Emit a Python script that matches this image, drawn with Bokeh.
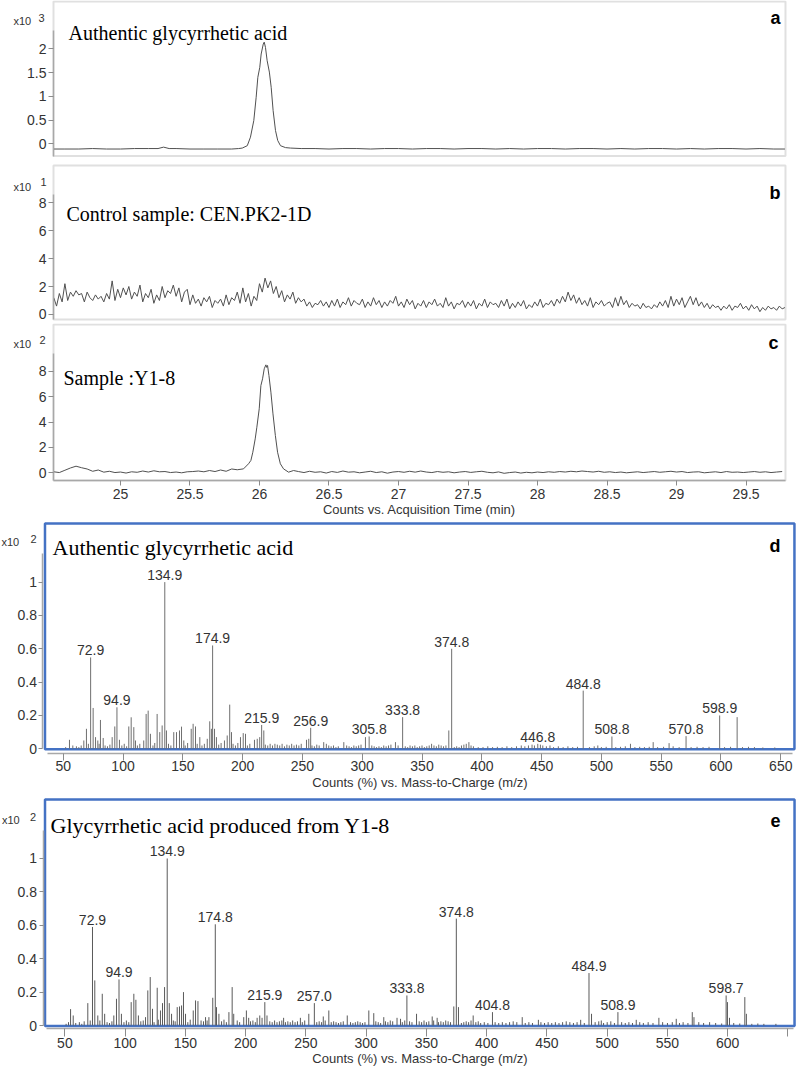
import numpy as np
from bokeh.plotting import figure
from bokeh.layouts import column
from bokeh.models import Label, FixedTicker, Range1d, ColumnDataSource, BoxAnnotation
from bokeh.embed import file_html
from bokeh.resources import INLINE
from bokeh.core.properties import value

SANS = "Liberation Sans"
SERIF = "Liberation Serif"

# ---------------- data ----------------
chrom_xticks = [25, 25.5, 26, 26.5, 27, 27.5, 28, 28.5, 29, 29.5]
chrom_xlabels = ["25", "25.5", "26", "26.5", "27", "27.5", "28", "28.5", "29", "29.5"]

# (a) authentic glycyrrhetic acid, counts x10^3
a_time = [24.52, 24.6, 24.7, 24.8, 24.9, 25.0, 25.1, 25.2, 25.27, 25.31, 25.35, 25.4,
          25.5, 25.6, 25.7, 25.8, 25.85, 25.876, 25.912, 25.935, 25.959, 25.976, 25.988,
          26.002, 26.012, 26.027, 26.034, 26.043, 26.055, 26.071, 26.084, 26.098, 26.115,
          26.131, 26.151, 26.187, 26.223, 26.3, 26.4, 26.5, 26.6, 26.7, 26.8, 26.9, 27.0,
          27.1, 27.2, 27.3, 27.4, 27.5, 27.6, 27.7, 27.8, 27.9, 28.0, 28.1, 28.2, 28.3,
          28.4, 28.5, 28.6, 28.7, 28.8, 28.9, 29.0, 29.1, 29.2, 29.3, 29.4, 29.5, 29.6,
          29.7, 29.78]
a_signal = [-0.11, -0.11, -0.11, -0.10, -0.11, -0.11, -0.10, -0.10, -0.10, -0.07, -0.10, -0.10,
            -0.11, -0.11, -0.11, -0.11, -0.10, -0.09, -0.04, 0.14, 0.49, 0.98, 1.40,
            1.61, 1.89, 2.10, 2.14, 2.03, 1.75, 1.51, 1.19, 0.70, 0.28,
            0.07, -0.04, -0.08, -0.09, -0.10, -0.10, -0.11, -0.10, -0.10, -0.11, -0.10, -0.10,
            -0.11, -0.10, -0.10, -0.11, -0.10, -0.10, -0.11, -0.10, -0.11, -0.10, -0.10, -0.11, -0.10,
            -0.10, -0.11, -0.10, -0.11, -0.10, -0.10, -0.11, -0.10, -0.11, -0.10, -0.10, -0.11, -0.10,
            -0.11, -0.11]
a_yticks = [0, 0.5, 1, 1.5, 2]
a_ylabels = ["0", "0.5", "1", "1.5", "2"]

# (b) control sample, counts x10^1, sampled every 0.02 min from 24.52
b_start, b_step = 24.52, 0.02
b_signal = [1.2, 0.6, 1.5, 0.9, 2.2, 1.0, 1.6, 1.3, 1.7, 1.4,
            1.5, 0.9, 1.6, 1.2, 1.0, 1.4, 1.1, 1.3, 0.9, 1.5,
            1.1, 2.4, 1.0, 1.8, 1.2, 1.9, 1.4, 2.0, 1.1, 1.6,
            1.3, 2.1, 0.9, 1.5, 1.2, 1.8, 0.8, 1.4, 1.0, 2.0,
            1.2, 1.7, 1.5, 2.1, 1.3, 1.9, 0.9, 1.6, 1.8, 0.7,
            1.4, 0.8, 1.1, 0.6, 1.2, 0.9, 1.3, 0.5, 1.0, 0.8,
            1.1, 0.6, 1.4, 0.7, 1.2, 1.0, 1.6, 0.8, 1.9, 0.9,
            1.5, 0.6, 1.3, 1.0, 2.2, 1.6, 2.6, 1.9, 2.4, 1.5,
            2.0, 1.2, 1.7, 0.9, 1.4, 1.1, 1.6, 0.8, 1.2, 0.9,
            1.1, 0.6, 0.9, 0.5, 0.8, 0.7, 1.0, 0.6, 0.9, 0.5,
            1.0, 0.6, 1.1, 0.5, 0.9, 0.7, 1.2, 0.6, 1.0, 0.8,
            0.7, 1.1, 0.5, 0.9, 0.6, 1.2, 0.7, 1.0, 0.5, 0.9,
            0.6, 1.0, 0.8, 1.3, 0.6, 0.9, 0.5, 1.1, 0.7, 1.0,
            0.4, 0.8, 0.6, 1.0, 0.5, 0.9, 0.7, 1.1, 0.6, 0.8,
            0.5, 1.2, 0.6, 0.9, 0.4, 0.8, 0.7, 1.0, 0.5, 0.9,
            0.6, 1.0, 0.4, 0.8, 0.6, 1.1, 0.5, 0.9, 0.7, 0.8,
            0.5, 1.0, 0.6, 1.1, 0.4, 0.8, 0.5, 0.9, 0.6, 1.0,
            0.4, 0.7, 0.5, 0.9, 0.6, 1.1, 0.5, 0.8, 0.7, 1.0,
            0.6, 1.1, 0.8, 1.3, 0.9, 1.6, 1.0, 1.4, 0.8, 1.2,
            0.7, 1.0, 0.6, 1.2, 0.5, 0.9, 0.7, 1.0, 0.6, 0.8,
            0.9, 0.5, 1.2, 0.6, 1.3, 0.7, 1.0, 0.5, 0.8, 0.6,
            0.7, 0.4, 0.8, 0.5, 0.6, 0.4, 0.7, 0.5, 0.9, 0.6,
            1.0, 0.5, 1.3, 0.6, 1.1, 0.7, 1.2, 0.5, 0.9, 1.3,
            0.7, 1.2, 0.6, 0.9, 0.5, 0.8, 0.4, 0.7, 0.5, 0.6,
            0.3, 0.6, 0.4, 0.7, 0.3, 0.6, 0.5, 0.8, 0.4, 0.6,
            0.3, 0.7, 0.4, 0.6, 0.2, 0.5, 0.3, 0.6, 0.4, 0.5,
            0.3, 0.6, 0.4, 0.5]
bc_yticks = [0, 2, 4, 6, 8]
bc_ylabels = ["0", "2", "4", "6", "8"]

# (c) sample Y1-8, counts x10^2
c_left_start, c_step = 24.52, 0.04
c_left_signal = [0.08, 0.02, 0.20, 0.38, 0.52, 0.40, 0.30, 0.12, 0.22, 0.05,
                 0.12, 0.02, 0.06, -0.02, 0.08, 0.04, 0.14, 0.06, 0.16, 0.08,
                 0.10, 0.02, 0.06, 0.00, 0.08, 0.10, 0.14, 0.08, 0.18, 0.10,
                 0.22, 0.12, 0.30, 0.24]
c_peak_time = [25.885, 25.921, 25.938, 25.952, 25.969, 25.981, 25.998, 26.010, 26.022,
               26.034, 26.046, 26.052, 26.058, 26.068, 26.082, 26.097, 26.114, 26.130,
               26.150, 26.173, 26.209, 26.245]
c_peak_signal = [0.31, 0.71, 0.97, 1.62, 2.67, 3.59, 5.04, 6.87, 7.40,
                 8.19, 8.50, 8.30, 8.45, 7.66, 6.35, 4.64, 2.94, 1.62,
                 0.71, 0.31, 0.05, 0.18]
c_right_start = 26.28
c_right_signal = [0.10, 0.02, 0.12, 0.04, 0.08, -0.02, 0.10, 0.03, 0.14, 0.05,
                  0.08, 0.00, 0.06, 0.12, 0.02, 0.08, -0.03, 0.06, 0.10, 0.04,
                  0.12, 0.05, 0.14, 0.06, 0.02, 0.10, 0.04, 0.08, 0.00, 0.06,
                  0.10, 0.03, 0.08, 0.12, 0.04, 0.00, 0.07, -0.04, 0.02, 0.06,
                  -0.02, 0.04, 0.00, 0.06, 0.02, 0.08, 0.04, 0.10, 0.06, 0.12,
                  0.08, 0.14, 0.10, 0.06, 0.12, 0.04, 0.08, 0.02, 0.06, 0.00,
                  0.04, 0.08, 0.02, 0.06, 0.10, 0.04, 0.08, 0.12, 0.06, 0.10,
                  0.02, 0.06, 0.08, 0.00, 0.04, 0.08, 0.02, 0.10, 0.04, 0.06,
                  0.02, 0.06, 0.10, 0.04, 0.08, 0.02, 0.06, 0.10]

# Mass spectra, counts (%) x10^2
ms_xticks = [50, 100, 150, 200, 250, 300, 350, 400, 450, 500, 550, 600, 650]
d_xlabels = ["50", "100", "150", "200", "250", "300", "350", "400", "450", "500", "550", "600", "650"]
e_xlabels = ["50", "100", "150", "200", "250", "300", "350", "400", "450", "500", "550", "600", ""]
ms_yticks = [0, 0.2, 0.4, 0.6, 0.8, 1]
ms_ylabels = ["0", "0.2", "0.4", "0.6", "0.8", "1"]

# (d) authentic standard
d_mz = [55.2, 67.2, 69.4, 72.9, 75.0, 77.0, 78.9, 81.1, 83.4, 90.9, 93.1, 94.9, 97.0,
        104.8, 106.8, 109.0, 110.4, 117.3, 119.3, 121.0, 122.9, 128.5, 130.7, 132.7,
        134.9, 136.3, 142.4, 144.7, 147.2, 148.9, 150.8, 157.0, 158.6, 160.6, 164.2,
        170.4, 172.5, 173.9, 174.9, 176.5, 178.1, 184.8, 187.1, 189.2, 190.7, 198.2,
        200.5, 202.4, 209.9, 212.2, 214.3, 215.9, 217.7, 253.4, 255.3, 256.9, 267.8,
        284.6, 302.7, 305.8, 327.8, 333.8, 372.4, 374.8, 389.2, 446.8, 484.8, 508.8,
        524.3, 543.3, 556.6, 570.8, 598.9, 613.5]
d_int = [0.054, 0.05, 0.12, 0.548, 0.245, 0.07, 0.05, 0.173, 0.065, 0.07, 0.134, 0.249, 0.054,
         0.134, 0.189, 0.13, 0.05, 0.05, 0.209, 0.229, 0.09, 0.209, 0.10, 0.14,
         1.0, 0.11, 0.10, 0.10, 0.11, 0.133, 0.05, 0.12, 0.15, 0.134, 0.07,
         0.06, 0.165, 0.12, 0.62, 0.12, 0.07, 0.05, 0.08, 0.265, 0.10, 0.07,
         0.094, 0.09, 0.054, 0.06, 0.07, 0.143, 0.11, 0.054, 0.06, 0.126, 0.04,
         0.04, 0.07, 0.074, 0.04, 0.19, 0.11, 0.60, 0.04, 0.03, 0.349, 0.074,
         0.03, 0.04, 0.034, 0.076, 0.20, 0.19]
d_minor_mz = [52, 58, 61, 63, 65, 71, 80, 85, 87, 89, 99, 101, 103, 112, 114, 125, 126.5,
              138, 140, 152, 154, 162, 166, 168, 180, 182, 192, 194, 196, 204, 206, 219,
              221, 223, 225, 227, 229, 231, 233, 235, 237, 239, 241, 243, 245, 247, 249,
              258, 260, 262, 264, 270, 272, 274, 276, 278, 280, 287, 289, 291, 293, 295,
              297, 299, 308, 310, 312, 314, 316, 318, 320, 322, 324, 330, 336, 338, 340,
              342, 344, 346, 348, 350, 352, 354, 356, 358, 360, 362, 364, 366, 368, 370,
              377, 379, 381, 383, 385, 387, 391, 393, 397, 401, 405, 409, 413, 417, 421,
              425, 429, 433, 436, 439, 442, 444, 449, 451, 454, 457, 460, 464, 468, 472,
              476, 480, 490, 494, 497, 500, 504, 512, 516, 520, 528, 532, 536, 540, 547,
              552, 560, 565, 575, 580, 585, 590, 603, 608, 618, 623, 628, 635, 645]
d_minor_int = [0.01, 0.02, 0.015, 0.01, 0.02, 0.03, 0.03, 0.02, 0.015, 0.025, 0.02, 0.03, 0.015,
               0.02, 0.03, 0.02, 0.035, 0.03, 0.02, 0.02, 0.035, 0.03, 0.02, 0.03, 0.025, 0.035,
               0.03, 0.02, 0.035, 0.02, 0.03, 0.025, 0.02, 0.03, 0.02, 0.03, 0.025, 0.02, 0.03,
               0.015, 0.025, 0.02, 0.03, 0.02, 0.025, 0.02, 0.03, 0.02, 0.015, 0.025, 0.02, 0.03,
               0.02, 0.015, 0.02, 0.01, 0.015, 0.02, 0.015, 0.01, 0.02, 0.015, 0.02, 0.025, 0.02,
               0.015, 0.01, 0.015, 0.01, 0.02, 0.015, 0.02, 0.025, 0.02, 0.015, 0.01, 0.02, 0.015,
               0.02, 0.01, 0.015, 0.02, 0.01, 0.015, 0.02, 0.03, 0.02, 0.015, 0.025, 0.02, 0.015,
               0.02, 0.01, 0.015, 0.01, 0.02, 0.025, 0.03, 0.02, 0.015, 0.01, 0.01, 0.015, 0.01,
               0.012, 0.01, 0.015, 0.01, 0.015, 0.02, 0.015, 0.02, 0.025, 0.02, 0.025, 0.02, 0.015,
               0.02, 0.01, 0.015, 0.01, 0.015, 0.01, 0.012, 0.01, 0.015, 0.02, 0.01, 0.012, 0.01,
               0.012, 0.015, 0.01, 0.012, 0.01, 0.012, 0.01, 0.012, 0.015, 0.01, 0.01, 0.012, 0.01,
               0.012, 0.01, 0.012, 0.01, 0.012, 0.01, 0.008, 0.008]
d_label_mz = [72.9, 94.9, 134.9, 174.9, 215.9, 256.9, 305.8, 333.8, 374.8, 446.8,
              484.8, 508.8, 570.8, 598.9]

# (e) glycyrrhetic acid produced by Y1-8
e_mz = [54.7, 56.9, 69.0, 72.9, 74.8, 77.3, 81.0, 83.0, 90.6, 92.8, 94.9, 96.9, 105.0,
        107.2, 108.9, 111.0, 116.9, 118.8, 120.8, 122.7, 126.6, 129.3, 131.0, 132.7,
        134.9, 136.6, 138.5, 143.2, 145.1, 146.8, 148.4, 150.1, 156.5, 158.4, 160.4,
        166.7, 169.5, 172.7, 174.8, 175.8, 177.8, 186.1, 188.8, 190.1, 198.4, 200.6,
        202.5, 209.5, 211.7, 213.6, 215.9, 217.7, 231.5, 245.4, 252.4, 257.0, 264.4,
        269.0, 284.3, 302.2, 306.3, 314.6, 325.6, 328.5, 333.8, 341.8, 354.8, 358.9,
        372.7, 374.8, 376.6, 388.8, 404.8, 429.5, 442.9, 478.0, 484.9, 487.0, 495.1,
        508.9, 524.1, 542.9, 557.3, 570.6, 572.0, 598.7, 599.8, 601.5, 614.2, 615.5]
e_int = [0.098, 0.06, 0.134, 0.59, 0.27, 0.06, 0.19, 0.07, 0.06, 0.16, 0.276, 0.07, 0.14,
         0.19, 0.154, 0.06, 0.05, 0.21, 0.29, 0.10, 0.226, 0.09, 0.134, 0.23,
         1.0, 0.134, 0.07, 0.11, 0.114, 0.12, 0.20, 0.07, 0.09, 0.15, 0.146,
         0.05, 0.05, 0.166, 0.606, 0.11, 0.07, 0.08, 0.23, 0.07, 0.05, 0.09,
         0.046, 0.046, 0.06, 0.046, 0.14, 0.06, 0.046, 0.046, 0.07, 0.134, 0.054,
         0.09, 0.06, 0.09, 0.074, 0.05, 0.046, 0.04, 0.18, 0.07, 0.054, 0.046,
         0.114, 0.64, 0.11, 0.06, 0.08, 0.05, 0.034, 0.034, 0.314, 0.07, 0.03,
         0.08, 0.034, 0.046, 0.04, 0.08, 0.05, 0.18, 0.14, 0.046, 0.17, 0.07]
e_minor_mz = [51, 53, 59, 62, 64, 66, 71, 79, 85, 87, 89, 99, 101, 103, 113, 115, 124,
              127.5, 140, 141.5, 152, 154, 163, 165, 168, 180, 182, 184, 193, 195, 204, 206,
              208, 220, 222, 224, 226, 228, 230, 233, 235, 237, 239, 241, 243, 247, 249, 259,
              261, 263, 266, 271, 273, 275, 277, 279, 281, 287, 289, 291, 293, 295, 297, 299,
              308, 310, 312, 316, 318, 320, 322, 330, 332, 336, 338, 344, 346, 348, 350, 352,
              356, 360, 362, 364, 366, 368, 370, 379, 381, 383, 385, 387, 391, 393, 395, 398,
              401, 407, 410, 413, 416, 419, 422, 425, 432, 435, 438, 445, 448, 451, 454, 457,
              460, 463, 466, 469, 472, 475, 481, 490, 493, 497, 500, 503, 506, 512, 515, 518,
              521, 527, 530, 534, 538, 546, 550, 554, 560, 563, 567, 576, 580, 585, 590, 595,
              605, 610, 620, 625, 630, 640]
e_minor_int = [0.01, 0.02, 0.015, 0.02, 0.01, 0.025, 0.03, 0.03, 0.02, 0.015, 0.025, 0.02, 0.03,
               0.02, 0.025, 0.03, 0.02, 0.035, 0.03, 0.025, 0.02, 0.035, 0.03, 0.025, 0.03, 0.025,
               0.035, 0.02, 0.03, 0.02, 0.025, 0.03, 0.02, 0.025, 0.02, 0.03, 0.02, 0.025, 0.03,
               0.02, 0.025, 0.02, 0.03, 0.02, 0.025, 0.02, 0.03, 0.02, 0.025, 0.02, 0.03, 0.02,
               0.025, 0.02, 0.015, 0.02, 0.025, 0.02, 0.015, 0.02, 0.025, 0.02, 0.015, 0.02, 0.025,
               0.02, 0.015, 0.025, 0.02, 0.03, 0.025, 0.02, 0.03, 0.025, 0.02, 0.025, 0.02, 0.03,
               0.02, 0.025, 0.03, 0.02, 0.025, 0.02, 0.03, 0.025, 0.02, 0.015, 0.02, 0.025, 0.02,
               0.03, 0.02, 0.025, 0.015, 0.02, 0.015, 0.02, 0.015, 0.02, 0.015, 0.02, 0.025, 0.02,
               0.015, 0.02, 0.015, 0.02, 0.015, 0.02, 0.015, 0.02, 0.015, 0.02, 0.025, 0.02, 0.015,
               0.02, 0.015, 0.02, 0.025, 0.015, 0.02, 0.025, 0.015, 0.02, 0.015, 0.02, 0.015,
               0.02, 0.015, 0.02, 0.015, 0.02, 0.015, 0.02, 0.015, 0.02, 0.015, 0.02, 0.015, 0.02,
               0.015, 0.012, 0.015, 0.012, 0.01, 0.012, 0.01, 0.01]
e_label_mz = [72.9, 94.9, 134.9, 174.8, 215.9, 257.0, 333.8, 374.8, 404.8, 484.9, 508.9, 598.7]

# ---------------- layout constants ----------------
W = 796
TXT = "#333333"
TRACE = "#505050"
GRID_GRAY = "#a8a8a8"


def make_fig(h, xr, yr):
    p = figure(width=W, height=h, x_range=Range1d(*xr), y_range=Range1d(*yr),
               output_backend="svg", toolbar_location=None,
               min_border_left=0, min_border_right=0, min_border_top=0, min_border_bottom=0)
    p.grid.visible = False
    p.outline_line_color = None
    p.background_fill_color = "white"
    p.border_fill_color = "white"
    return p


def style_axis(ax, ticks, labels, size="14px", tick_out=4, standoff=3):
    ax.ticker = FixedTicker(ticks=ticks)
    ax.major_label_overrides = dict(zip(ticks, labels))
    ax.minor_tick_line_color = None
    ax.major_tick_in = 0
    ax.major_tick_out = tick_out
    ax.major_tick_line_color = "#8c8c8c"
    ax.major_tick_line_width = 1
    ax.axis_line_color = GRID_GRAY
    ax.axis_line_width = 1.5
    ax.major_label_text_font = SANS
    ax.major_label_text_font_size = size
    ax.major_label_text_color = TXT
    ax.major_label_standoff = standoff
    ax.axis_label_text_font = SANS
    ax.axis_label_text_font_size = "13px"
    ax.axis_label_text_font_style = "normal"
    ax.axis_label_text_color = TXT


def add_text(p, x, y, dx, dy, text, font, size, color, align, baseline, style="normal"):
    p.add_layout(Label(x=x, y=y, x_offset=dx, y_offset=-dy, text=text, text_font=font,
                       text_font_size=size, text_font_style=style, text_color=color,
                       text_align=align, text_baseline=baseline))


def decorate(p, box, mult, title, tsize, letter):
    # box = (left, right, bottom, top) in data units
    l, r, b, t = box
    (ex, dx1, dy1, dx2, dy2) = mult
    add_text(p, l, t, dx1, dy1, "x10", SANS, "11px", TXT, "left", "middle")
    add_text(p, l, t, dx2, dy2, ex, SANS, "11px", TXT, "left", "middle")
    (ttext, tdx, tdy) = title
    add_text(p, l, t, tdx, tdy, ttext, SERIF, tsize, "black", "left", "alphabetic")
    (ltext, ldx, ldy) = letter
    add_text(p, r, t, ldx, ldy, ltext, SANS, "18px", "black", "right", "alphabetic", "bold")


def chrom(h, xr, yr, box, yticks, ylabels, ytop, show_x):
    p = make_fig(h, xr, yr)
    l, r, b, t = box
    p.add_layout(BoxAnnotation(left=l, right=r, bottom=b, top=t, fill_color=None,
                               line_color="#e0e0e0", line_alpha=1.0, line_width=2,
                               level="underlay"))
    style_axis(p.yaxis[0], yticks, ylabels, size="14px", tick_out=5, standoff=2)
    p.yaxis.fixed_location = l
    p.yaxis.bounds = (b, ytop)
    if show_x:
        style_axis(p.xaxis[0], chrom_xticks, chrom_xlabels, size="14px", tick_out=5, standoff=4)
        p.xaxis.fixed_location = b
        p.xaxis.bounds = (l, r)
        p.xaxis.axis_label = "Counts vs. Acquisition Time (min)"
        p.xaxis.axis_label_standoff = -1
    else:
        p.xaxis.visible = False
    return p


CH_XR = (24.1367, 29.8633)
CH_L, CH_R = 24.518, 29.784

# ---------------- panel a ----------------
pa = chrom(161, CH_XR, (-0.3726, 3.017), (CH_L, CH_R, -0.257, 2.996),
           a_yticks, a_ylabels, 2.39, False)
pa.line(a_time, a_signal, line_color=TRACE, line_width=1)
decorate(pa, (CH_L, CH_R, -0.257, 2.996), ("3", -40, 20, -15, 17),
         ("Authentic glycyrrhetic acid", 15, 32), "20px", ("a", -5, 17))

# ---------------- panel b (band 161..323) ----------------
b_time = list(np.round(b_start + b_step * np.arange(len(b_signal)), 3))
pb = chrom(162, CH_XR, (-0.6429, 10.929), (CH_L, CH_R, -0.357, 10.643),
           bc_yticks, bc_ylabels, 8.6, False)
pb.line(b_time, b_signal, line_color=TRACE, line_width=1)
decorate(pb, (CH_L, CH_R, -0.357, 10.643), ("1", -40, 21, -13, 16),
         ("Control sample: CEN.PK2-1D", 13, 48), "20px", ("b", -5, 27))

# ---------------- panel c (band 323..519) ----------------
c_time = (list(np.round(c_left_start + c_step * np.arange(len(c_left_signal)), 3))
          + c_peak_time
          + list(np.round(c_right_start + c_step * np.arange(len(c_right_signal)), 3)))
c_signal = c_left_signal + c_peak_signal + c_right_signal
C_BOX = (CH_L, CH_R, -0.606, 11.677)
pc = chrom(196, CH_XR, (-3.677, 11.756), C_BOX, bc_yticks, bc_ylabels, 9.4, True)
pc.line(c_time, c_signal, line_color=TRACE, line_width=1)
decorate(pc, C_BOX, ("2", -40, 19.5, -14, 15.5),
         ("Sample :Y1-8", 10, 53), "20px", ("c", -7, 18))


# ---------------- mass spectra ----------------
def spectrum(h, xr, yr, box, yaxis_x, xaxis_y, xbounds, mz, inten, mmz, mint, lab_mz,
             xlabels, stick_color, tick_out):
    p = make_fig(h, xr, yr)
    l, r, b, t = box
    p.add_layout(BoxAnnotation(left=l, right=r, bottom=b, top=t, fill_color=None,
                               line_color="#4472C4", line_alpha=1.0, line_width=2.5,
                               level="underlay"))
    style_axis(p.yaxis[0], ms_yticks, ms_ylabels, size="14px", tick_out=4, standoff=2)
    p.yaxis.fixed_location = yaxis_x
    p.yaxis.bounds = (0, 1.17)
    style_axis(p.xaxis[0], ms_xticks, xlabels, size="14px", tick_out=tick_out, standoff=1)
    p.xaxis.fixed_location = xaxis_y
    p.xaxis.bounds = xbounds
    p.xaxis.axis_label = "Counts (%) vs. Mass-to-Charge (m/z)"
    p.xaxis.axis_label_standoff = 0
    p.segment(x0=mmz, y0=[0] * len(mmz), x1=mmz, y1=mint, line_color=stick_color, line_width=1)
    p.segment(x0=mz, y0=[0] * len(mz), x1=mz, y1=inten, line_color=stick_color, line_width=1)
    lookup = dict(zip(mz, inten))
    src = ColumnDataSource(dict(x=lab_mz, y=[lookup[m] for m in lab_mz],
                                t=["%.1f" % m for m in lab_mz]))
    p.text(x="x", y="y", text="t", source=src, text_font=value(SANS),
           text_font_size=value("14px"), text_color=TXT, text_align="center",
           text_baseline="bottom", y_offset=-2)
    return p


D_BOX = (34.73, 661.43, -0.002, 1.3515)
pd_ = spectrum(276, (-2.474, 663.15), (-0.2801, 1.3755), D_BOX, 33.06, -0.0264, (37.2, 659.7),
               d_mz, d_int, d_minor_mz, d_minor_int, d_label_mz, d_xlabels, "#6f6f6f", 7)
decorate(pd_, D_BOX, ("2", -43.5, 18.5, -14.5, 15),
         ("Authentic glycyrrhetic acid", 7.5, 24), "22px", ("d", -14, 22))

E_BOX = (33.49, 655.46, -0.003, 1.3533)
pe = spectrum(271, (-3.44, 657.09), (-0.2455, 1.3772), E_BOX, 31.83, -0.0198, (35.0, 654.6),
              e_mz, e_int, e_minor_mz, e_minor_int, e_label_mz, e_xlabels, "#5a5a5a", 8)
decorate(pe, E_BOX, ("2", -43, 20.5, -15, 17.5),
         ("Glycyrrhetic acid produced from Y1-8", 5.5, 26), "22px", ("e", -14, 21))

layout = column(pa, pb, pc, pd_, pe, spacing=0)
open("out.html", "w").write(file_html(layout, INLINE))
